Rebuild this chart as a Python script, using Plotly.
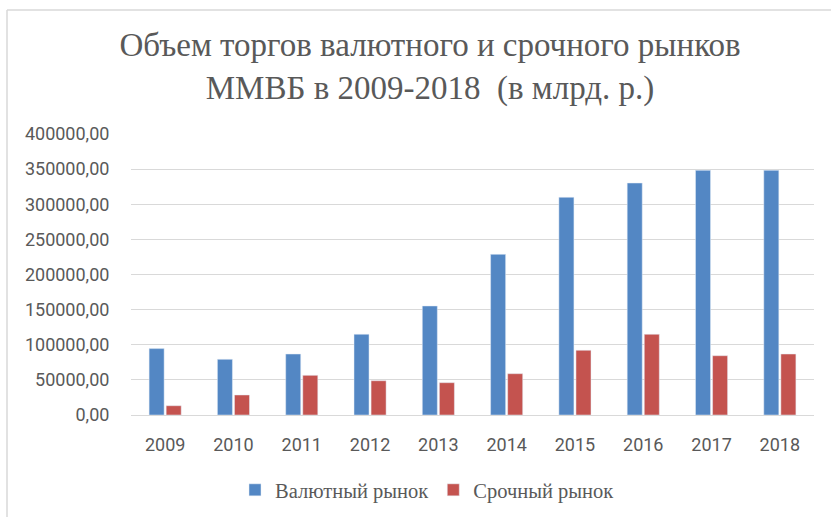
import plotly.graph_objects as go

years = ["2009", "2010", "2011", "2012", "2013", "2014", "2015", "2016", "2017", "2018"]
fx_market = [94500, 79300, 86800, 114900, 155200, 228700, 309900, 330200, 348300, 348300]
derivatives = [13200, 28500, 56500, 48800, 46000, 58800, 92100, 114900, 84400, 86800]
y_ticks = [0, 50000, 100000, 150000, 200000, 250000, 300000, 350000, 400000]
y_tick_text = ["0,00", "50000,00", "100000,00", "150000,00", "200000,00",
               "250000,00", "300000,00", "350000,00", "400000,00"]

W, H = 831, 517
L, R, T, B = 131, 17, 134, 102
pw, ph = W - L - R, H - T - B

grey = "#595959"
fig = go.Figure()
fig.add_trace(go.Bar(name="Валютный рынок", x=years, y=fx_market, marker_color="#5387C4"))
fig.add_trace(go.Bar(name="Срочный рынок", x=years, y=derivatives, marker_color="#C4534F"))

fig.update_layout(
    width=W, height=H,
    margin=dict(l=L, r=R, t=T, b=B),
    paper_bgcolor="white", plot_bgcolor="white",
    barmode="group", bargap=0.5, bargroupgap=0.12,
    title=dict(
        text="Объем торгов валютного и срочного рынков<br>ММВБ в 2009-2018  (в млрд. р.)",
        x=430 / W, xref="container", xanchor="center",
        y=1 - 56 / H, yref="container", yanchor="middle",
        font=dict(family="Liberation Serif", size=33, color=grey),
    ),
    legend=dict(
        orientation="h", xref="container", yref="container",
        x=427 / W, xanchor="center", y=1 - 490 / H, yanchor="middle",
        font=dict(family="Liberation Serif", size=20.5, color=grey),
        itemwidth=30, traceorder="normal",
    ),
    showlegend=True,
)
fig.update_yaxes(
    range=[0, 400000], tickvals=y_ticks, ticktext=y_tick_text,
    gridcolor="#D9D9D9", gridwidth=1, zeroline=False,
    ticks="outside", ticklen=17, tickcolor="rgba(0,0,0,0)",
    tickfont=dict(family="Roboto", size=18, color=grey),
    showline=False,
)
fig.update_xaxes(
    showline=True, linecolor="#D9D9D9", linewidth=1,
    ticks="outside", ticklen=13, tickcolor="rgba(0,0,0,0)",
    tickfont=dict(family="Roboto", size=18, color=grey),
)
# outer chart frame (top and left edges)
fig.add_shape(type="line", xref="paper", yref="paper",
              x0=(7 - L) / pw, x1=(W - L) / pw, y0=(H - B - 10) / ph, y1=(H - B - 10) / ph,
              line=dict(color="#D9D9D9", width=1.5))
fig.add_shape(type="line", xref="paper", yref="paper",
              x0=(7 - L) / pw, x1=(7 - L) / pw, y0=(H - B - 10) / ph, y1=-B / ph,
              line=dict(color="#D9D9D9", width=1.5))

fig.write_html("out.html", config={"displayModeBar": False},
               post_script="document.body.style.margin='0';document.body.style.overflow='hidden';")
